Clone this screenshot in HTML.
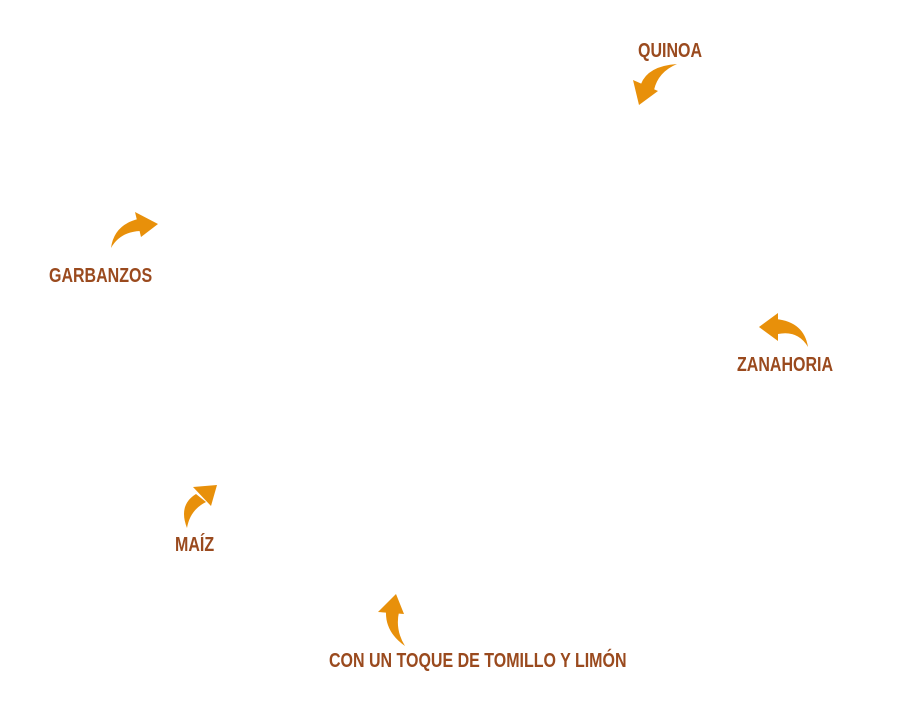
<!DOCTYPE html>
<html><head><meta charset="utf-8"><style>
html,body{margin:0;padding:0;background:#fff;width:924px;height:723px;overflow:hidden}
.t{position:absolute;font-family:"Liberation Sans",sans-serif;font-weight:bold;color:#9a4a1e;font-size:20px;line-height:20px;white-space:nowrap;transform-origin:0 0;transform:scaleX(0.8)}
svg{position:absolute;left:0;top:0}
</style></head><body>
<svg width="924" height="723" fill="#e8900a">
<path d="M677,64 Q648,66 641,84 L654,90 Q658,72 677,64 Z"/>
<polygon points="633,80 658,91 639,105"/>
<path d="M111,248 Q114,225 138,219 L140,231 Q120,232 111,248 Z"/>
<polygon points="135,212 158,224 141,237"/>
<path d="M808,347 Q804,322 776,319 L778,334 Q798,330 808,347 Z"/>
<polygon points="778,313 759,327 778,341"/>
<path d="M187,528 Q178,505 196,494 L206,502 Q190,510 187,528 Z"/>
<polygon points="193,487 217,485 211,506"/>
<path d="M405,646 Q385,632 386,611 L399,612 Q395,630 405,646 Z"/>
<polygon points="378,612 396,594 404,614"/>
</svg>
<div class="t" style="left:638px;top:41px">QUINOA</div>
<div class="t" style="left:49px;top:266px">GARBANZOS</div>
<div class="t" style="left:737px;top:355px">ZANAHORIA</div>
<div class="t" style="left:175px;top:535px">MAÍZ</div>
<div class="t" style="left:329px;top:651px">CON UN TOQUE DE TOMILLO Y LIMÓN</div>
</body></html>
